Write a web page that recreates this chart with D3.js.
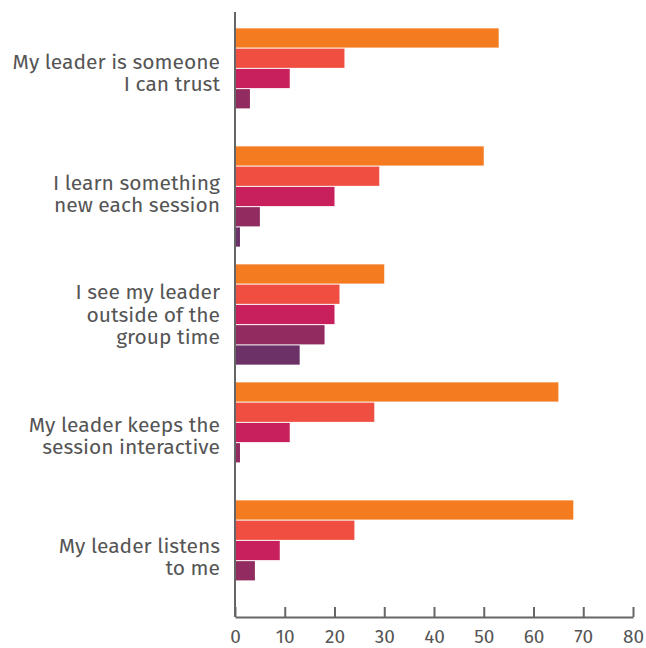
<!DOCTYPE html>
<html>
<head>
<meta charset="utf-8">
<script src="https://cdn.jsdelivr.net/npm/d3@7"></script>
<style>
  html, body { margin: 0; padding: 0; background: #fff; }
  svg { display: block; }
  text { font-family: "Fira Sans", "Open Sans", "Noto Sans", sans-serif; fill: #555; }
</style>
</head>
<body>
<svg id="chart" width="646" height="648"></svg>
<script>
// ---- data ----
const categories = [
  "My leader is someone\nI can trust",
  "I learn something\nnew each session",
  "I see my leader\noutside of the\ngroup time",
  "My leader keeps the\nsession interactive",
  "My leader listens\nto me"
];
const seriesNames = ["Series 1", "Series 2", "Series 3", "Series 4", "Series 5"];
const series1 = [53, 50, 30, 65, 68];
const series2 = [22, 29, 21, 28, 24];
const series3 = [11, 20, 20, 11, 9];
const series4 = [3, 5, 18, 1, 4];
const series5 = [0, 1, 13, 0, 0];
const xTicks = [0, 10, 20, 30, 40, 50, 60, 70, 80];
const colors = ["#F47B20", "#EF4E40", "#C8205C", "#912B60", "#6C3268"];

const allSeries = [series1, series2, series3, series4, series5];

// ---- layout ----
const W = 646, H = 648;
const margin = { top: 12, right: 13, bottom: 31, left: 235 };
const svg = d3.select("#chart");

const x = d3.scaleLinear().domain([0, 80]).range([margin.left, W - margin.right]);
// band for bar groups
const y = d3.scaleBand().domain(categories)
  .range([margin.top, H - margin.bottom])
  .paddingInner(0.15).paddingOuter(0.1385);
// band for category labels (full rows)
const yLabel = d3.scaleBand().domain(categories)
  .range([margin.top, H - margin.bottom]).padding(0);
const yInner = d3.scaleBand().domain(seriesNames)
  .range([0, y.bandwidth()]).paddingInner(0.05).paddingOuter(0);

// bars
const groups = svg.append("g").selectAll("g")
  .data(categories).join("g")
  .attr("transform", d => `translate(0,${y(d)})`);

groups.selectAll("rect")
  .data((c, ci) => seriesNames.map((s, si) => ({ s, si, v: allSeries[si][ci] })))
  .join("rect")
  .filter(d => d.v > 0)
  .attr("x", x(0))
  .attr("y", d => yInner(d.s))
  .attr("width", d => x(d.v) - x(0))
  .attr("height", yInner.bandwidth())
  .attr("fill", d => colors[d.si]);

// category labels
const labels = svg.append("g").selectAll("text")
  .data(categories).join("text")
  .attr("text-anchor", "end")
  .attr("font-size", 21);
labels.each(function (d) {
  const lines = d.split("\n");
  const lh = 22.5;
  const cy = yLabel(d) + yLabel.bandwidth() / 2;
  const t = d3.select(this);
  lines.forEach((ln, i) => {
    t.append("tspan")
      .attr("x", 220)
      .attr("y", cy - (lines.length - 1) * lh / 2 + i * lh)
      .attr("dy", "0.35em")
      .text(ln);
  });
});

// x axis
const xAxis = d3.axisBottom(x).tickValues(xTicks).tickSize(-10).tickPadding(12).tickSizeOuter(0);
const gx = svg.append("g")
  .attr("transform", `translate(0,${H - margin.bottom})`)
  .call(xAxis);
gx.select(".domain").attr("stroke", "#666").attr("stroke-width", 2);
gx.selectAll(".tick line").attr("stroke", "#666").attr("stroke-width", 2);
gx.selectAll(".tick text")
  .attr("font-size", 19)
  .attr("y", 26)
  .attr("dy", null)
  .style("font-family", '"Fira Sans", "Open Sans", "Noto Sans", sans-serif')
  .attr("fill", "#555");

// y axis line
svg.append("line")
  .attr("x1", x(0)).attr("x2", x(0))
  .attr("y1", margin.top).attr("y2", H - margin.bottom)
  .attr("stroke", "#666").attr("stroke-width", 2);
</script>
</body>
</html>
